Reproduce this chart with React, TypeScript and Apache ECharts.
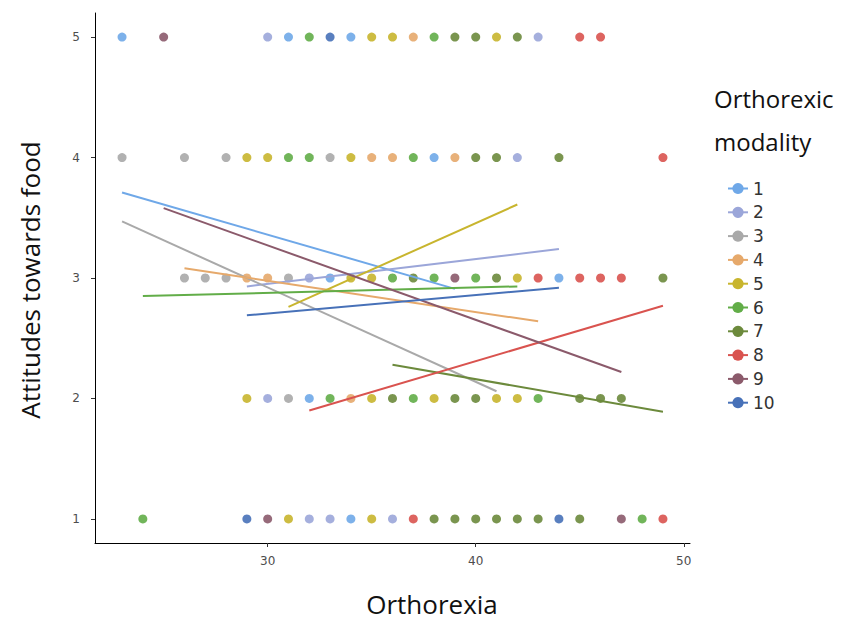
import React, { useEffect, useRef } from "react";
import * as echarts from "echarts";

const modalities = ["1", "2", "3", "4", "5", "6", "7", "8", "9", "10"];
const colors = ["#6fa8e8", "#9ba6d9", "#a9a9a9", "#e6a96b", "#c8b52e", "#62ad48", "#6c8a3c", "#d9534f", "#8b5a6b", "#4771b8"];

// [orthorexia, modality] for each attitude level
const attitude5 = [[23, 1], [25, 9], [30, 2], [31, 1], [32, 6], [33, 10], [34, 1], [35, 5], [36, 5], [37, 4], [38, 6], [39, 7], [40, 7], [41, 5], [42, 7], [43, 2], [45, 8], [46, 8]];
const attitude4 = [[23, 3], [26, 3], [28, 3], [29, 5], [30, 5], [31, 6], [32, 6], [33, 3], [34, 5], [35, 4], [36, 4], [37, 6], [38, 1], [39, 4], [40, 7], [41, 7], [42, 2], [44, 7], [49, 8]];
const attitude3 = [[26, 3], [27, 3], [28, 3], [29, 4], [30, 4], [31, 3], [32, 2], [33, 1], [34, 5], [35, 5], [36, 6], [37, 7], [38, 6], [39, 9], [40, 6], [41, 7], [42, 5], [43, 8], [44, 1], [45, 8], [46, 8], [47, 8], [49, 7]];
const attitude2 = [[29, 5], [30, 2], [31, 3], [32, 1], [33, 6], [34, 4], [35, 5], [36, 7], [37, 6], [38, 5], [39, 7], [40, 7], [41, 5], [42, 5], [43, 6], [45, 7], [46, 7], [47, 7]];
const attitude1 = [[24, 6], [29, 10], [30, 9], [31, 5], [32, 2], [33, 2], [34, 1], [35, 5], [36, 2], [37, 8], [38, 7], [39, 7], [40, 7], [41, 7], [42, 7], [43, 7], [44, 10], [45, 7], [47, 9], [48, 6], [49, 8]];

// fitted line per modality: [x1, y1, x2, y2]
const fitLines = [
  [23, 3.71, 39, 2.91],
  [29, 2.93, 44, 3.24],
  [23, 3.47, 41, 2.06],
  [26, 3.08, 43, 2.64],
  [31, 2.76, 42, 3.61],
  [24, 2.85, 42, 2.93],
  [36, 2.28, 49, 1.89],
  [32, 1.9, 49, 2.77],
  [25, 3.58, 47, 2.22],
  [29, 2.69, 44, 2.92],
];

const xTicks = [30, 40, 50];
const yTicks = [1, 2, 3, 4, 5];

export default function App() {
  const ref = useRef<HTMLDivElement>(null);
  useEffect(() => {
    if (!ref.current) return;
    const chart = echarts.init(ref.current, undefined, { renderer: "svg" });
    const rows: [number, number[][]][] = [
      [5, attitude5],
      [4, attitude4],
      [3, attitude3],
      [2, attitude2],
      [1, attitude1],
    ];
    const lineSeries = modalities.map((m, i) => ({
      type: "line",
      name: m,
      data: [
        [fitLines[i][0], fitLines[i][1]],
        [fitLines[i][2], fitLines[i][3]],
      ],
      symbol: "circle",
      symbolSize: 7,
      showSymbol: false,
      lineStyle: { width: 2, color: colors[i] },
      itemStyle: { color: colors[i] },
      z: 3,
      silent: true,
    }));
    const scatterSeries = modalities.map((m, i) => {
      const data: number[][] = [];
      rows.forEach(([yv, arr]) => {
        arr.forEach(([xv, mod]) => {
          if (mod === i + 1) data.push([xv, yv]);
        });
      });
      return {
        type: "scatter",
        name: m,
        data,
        symbolSize: 9,
        itemStyle: { color: colors[i], opacity: 0.9 },
        z: 2,
      };
    });
    chart.setOption({
      animation: false,
      backgroundColor: "#ffffff",
      grid: { left: 95, right: 171, top: 13, bottom: 82 },
      xAxis: {
        type: "value",
        min: 21.7,
        max: 50.3,
        splitLine: { show: false },
        axisLine: { show: true, onZero: false, lineStyle: { color: "#000", width: 1 } },
        axisTick: { show: true, length: 4, customValues: xTicks, lineStyle: { color: "#333" } },
        axisLabel: { customValues: xTicks, color: "#4d4d4d", fontSize: 12, margin: 12, fontFamily: "DejaVu Sans" },
      },
      yAxis: {
        type: "value",
        min: 0.8,
        max: 5.2,
        splitLine: { show: false },
        axisLine: { show: true, onZero: false, lineStyle: { color: "#000", width: 1 } },
        axisTick: { show: true, length: 4, customValues: yTicks, lineStyle: { color: "#333" } },
        axisLabel: { customValues: yTicks, color: "#4d4d4d", fontSize: 12, margin: 15, fontFamily: "DejaVu Sans" },
      },
      legend: {
        orient: "vertical",
        left: 722,
        top: 175,
        itemWidth: 20,
        itemHeight: 14,
        itemGap: 6.8,
        data: modalities,
        textStyle: { fontSize: 17, color: "#333", fontFamily: "DejaVu Sans" },
      },
      graphic: [
        {
          type: "text",
          left: 714,
          top: 86,
          style: { text: "Orthorexic", font: "24px 'Open Sans'", fill: "#111" },
        },
        {
          type: "text",
          left: 714,
          top: 129,
          style: { text: "modality", font: "24px 'Open Sans'", fill: "#111" },
        },
        {
          type: "text",
          x: 432,
          y: 604,
          style: { text: "Orthorexia", font: "26px 'Open Sans'", fill: "#111", align: "center", verticalAlign: "middle" },
        },
        {
          type: "text",
          x: 30,
          y: 280,
          rotation: Math.PI / 2,
          style: { text: "Attitudes towards food", font: "26px 'Open Sans'", fill: "#111", align: "center", verticalAlign: "middle" },
        },
      ],
      series: [...lineSeries, ...scatterSeries],
    });
    return () => chart.dispose();
  }, []);
  return <div ref={ref} style={{ position: "fixed", left: 0, top: 0, width: 861, height: 625 }} />;
}
